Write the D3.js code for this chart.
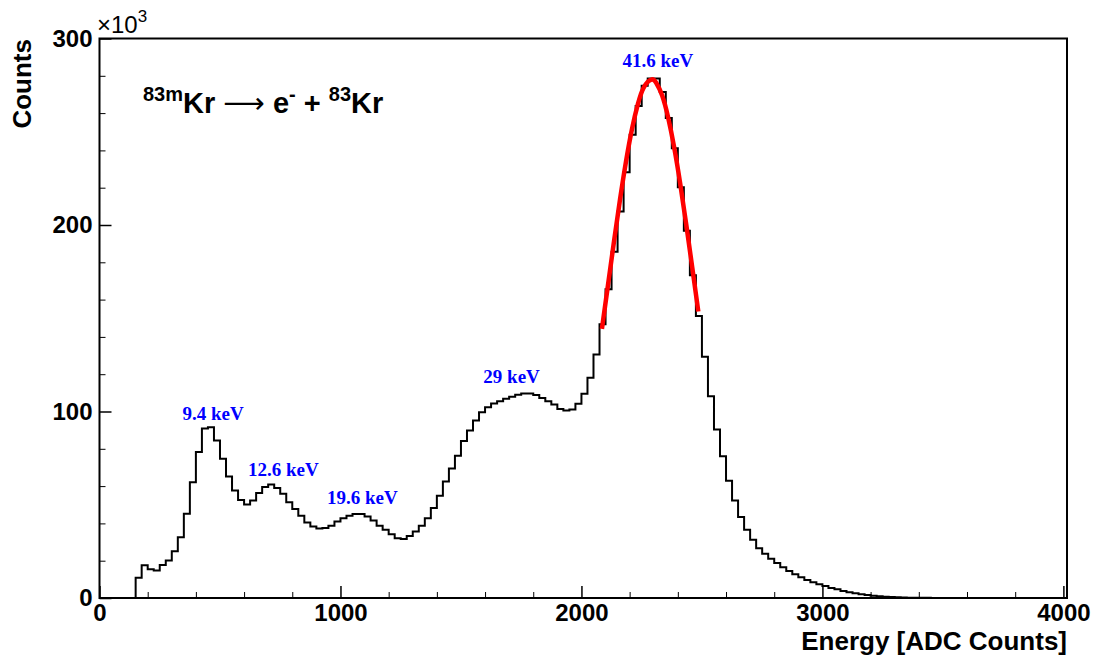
<!DOCTYPE html>
<html>
<head>
<meta charset="utf-8">
<script src="https://cdn.jsdelivr.net/npm/d3@7"></script>
<style>
  body { margin: 0; background: #fff; }
  svg { display: block; }
  .axis path, .axis line { stroke: #000; }
  .axis text { font-family: "Liberation Sans", Arial, sans-serif; font-weight: bold; font-size: 24px; fill: #000; }
</style>
</head>
<body>
<div id="chart"></div>
<script>
// histogram binning (ADC counts)
const binStart = 150;
const binWidth = 25;
const binCount = 154;
// bin contents, x10^3 counts (rest of bins are zero)
const counts = [
  10.9, 17.6, 15.4, 14.7, 17.7, 20.1, 25.1, 32.6, 45.2, 62.0,
  78.3, 90.9, 91.6, 84.4, 74.7, 65.2, 57.7, 52.5, 50.2, 52.3,
  56.3, 59.5, 60.8, 59.0, 55.9, 51.3, 47.7, 44.1, 40.5, 38.3,
  37.3, 37.5, 38.7, 41.0, 42.8, 44.1, 45.0, 45.0, 43.7, 41.6,
  38.7, 36.6, 34.2, 32.1, 31.7, 33.3, 35.6, 38.7, 42.8, 48.2,
  54.8, 62.5, 69.5, 76.3, 84.2, 89.8, 95.2, 99.6, 102.3, 104.3,
  105.5, 106.8, 107.9, 109.0, 109.7, 109.7, 108.8, 107.2, 105.5, 103.8,
  101.4, 100.5, 101.1, 104.1, 109.5, 118.1, 130.6, 146.8, 165.6, 185.6,
  207.2, 228.3, 248.4, 263.8, 274.6, 278.5, 278.5, 271.3, 257.4, 241.2,
  220.3, 196.9, 173.1, 151.2, 129.3, 108.2, 90.3, 76.0, 62.9, 52.3,
  43.4, 36.6, 31.2, 26.7, 23.7, 21.0, 18.7, 16.5, 14.5, 12.7,
  11.1, 9.7, 8.4, 7.4, 6.5, 5.4, 4.7, 3.8, 3.1, 2.5,
  2.0, 1.6, 1.2, 0.9, 0.7, 0.5, 0.4, 0.3, 0.2, 0.15,
  0.1, 0.08, 0.05, 0.03, 0.02
];

// gaussian fit of the 41.6 keV peak
const fitEnergy = [2085, 2110, 2135, 2160, 2185, 2210, 2235, 2260, 2290, 2310, 2335, 2360, 2385, 2410, 2435, 2460, 2485];
const fitCounts = [144.3, 167.6, 191.1, 213.6, 234.1, 251.6, 265.2, 274.1, 278.0, 276.3, 269.4, 257.5, 241.5, 222.1, 200.2, 177.1, 153.6];

// peak annotations (placed in data coordinates)
const peakNames = ['9.4 keV', '12.6 keV', '19.6 keV', '29 keV', '41.6 keV'];
const peakLabelX = [471, 763, 1091, 1710, 2317];
const peakLabelY = [95.5, 65.5, 50.5, 115.5, 284.5];

const xMajor = [0, 1000, 2000, 3000, 4000];
const yMajor = [0, 100, 200, 300];

const W = 1096, H = 655;
const margin = { top: 38.5, right: 29, bottom: 57, left: 99.5 };

const svg = d3.select('#chart').append('svg')
  .attr('width', W)
  .attr('height', H);

const x = d3.scaleLinear().domain([0, 4015]).range([margin.left, W - margin.right]);
const y = d3.scaleLinear().domain([0, 300]).range([H - margin.bottom, margin.top]);

// histogram as a step line
const pts = [[binStart, 0]];
for (let i = 0; i < binCount; i++) {
  const v = i < counts.length ? counts[i] : 0;
  pts.push([binStart + i * binWidth, v]);
}
pts.push([binStart + binCount * binWidth, 0]);

svg.append('path')
  .attr('d', d3.line().x(d => x(d[0])).y(d => y(d[1])).curve(d3.curveStepAfter)(pts))
  .attr('fill', 'none')
  .attr('stroke', '#000')
  .attr('stroke-width', 2);

// fit curve
svg.append('path')
  .datum(d3.zip(fitEnergy, fitCounts))
  .attr('d', d3.line().x(d => x(d[0])).y(d => y(d[1])).curve(d3.curveNatural))
  .attr('fill', 'none')
  .attr('stroke', '#ff0000')
  .attr('stroke-width', 4.5);

// frame
svg.append('rect')
  .attr('x', x(0)).attr('y', y(300))
  .attr('width', x(4015) - x(0)).attr('height', y(0) - y(300))
  .attr('fill', 'none').attr('stroke', '#000').attr('stroke-width', 2);

// x axis: minor ticks every 200, major every 1000
svg.append('g')
  .attr('class', 'axis')
  .attr('transform', `translate(0, ${y(0)})`)
  .call(d3.axisBottom(x).tickValues(d3.range(0, 4001, 200).filter(v => v % 1000)).tickSize(-6).tickFormat(''))
  .call(g => g.select('.domain').remove());
svg.append('g')
  .attr('class', 'axis')
  .attr('transform', `translate(0, ${y(0)})`)
  .call(d3.axisBottom(x).tickValues(xMajor).tickSize(-12).tickPadding(4).tickFormat(d3.format('d')))
  .call(g => g.select('.domain').remove())
  .call(g => g.selectAll('line').attr('stroke-width', 1.5))
  .call(g => g.selectAll('text').attr('dy', '0.78em'));

// y axis: minor ticks every 20, major every 100
svg.append('g')
  .attr('class', 'axis')
  .attr('transform', `translate(${x(0)}, 0)`)
  .call(d3.axisLeft(y).tickValues(d3.range(0, 301, 20).filter(v => v % 100)).tickSize(-6).tickFormat(''))
  .call(g => g.select('.domain').remove());
svg.append('g')
  .attr('class', 'axis')
  .attr('transform', `translate(${x(0)}, 0)`)
  .call(d3.axisLeft(y).tickValues(yMajor).tickSize(-12).tickPadding(7).tickFormat(d3.format('d')))
  .call(g => g.select('.domain').remove())
  .call(g => g.selectAll('line').attr('stroke-width', 1.5));

const sans = '"Liberation Sans", Arial, sans-serif';

// x10^3 exponent
const expo = svg.append('text')
  .attr('x', 97).attr('y', 33)
  .style('font-family', sans).style('font-size', '24px');
expo.append('tspan').text('\u00d710');
expo.append('tspan').attr('dy', -11).style('font-size', '17px').text('3');

// axis titles
svg.append('text')
  .attr('text-anchor', 'end')
  .attr('x', W - margin.right).attr('y', 650)
  .style('font-family', sans).style('font-weight', 'bold').style('font-size', '26px')
  .text('Energy [ADC Counts]');

svg.append('text')
  .attr('text-anchor', 'end')
  .attr('transform', 'translate(31, 39) rotate(-90)')
  .style('font-family', sans).style('font-weight', 'bold').style('font-size', '26px')
  .text('Counts');

// reaction label
const title = svg.append('text')
  .attr('x', 143).attr('y', 113)
  .style('font-family', sans).style('font-weight', 'bold').style('font-size', '29px');
title.append('tspan').attr('dy', -12).style('font-size', '20px').text('83m');
title.append('tspan').attr('dy', 12).text('Kr ');
title.append('tspan').style('font-family', '"DejaVu Sans", sans-serif').style('font-weight', 'normal').text('\u27f6');
title.append('tspan').text(' e');
title.append('tspan').attr('dy', -12).style('font-size', '20px').text('-');
title.append('tspan').attr('dy', 12).text(' + ');
title.append('tspan').attr('dy', -12).style('font-size', '20px').text('83');
title.append('tspan').attr('dy', 12).text('Kr');

// peak labels
svg.append('g').selectAll('text')
  .data(peakNames)
  .join('text')
  .attr('x', (d, i) => x(peakLabelX[i]))
  .attr('y', (d, i) => y(peakLabelY[i]))
  .attr('text-anchor', 'middle')
  .style('font-family', '"Liberation Serif", "Times New Roman", serif')
  .style('font-weight', 'bold')
  .style('font-size', '19px')
  .style('fill', '#0000ff')
  .text(d => d);
</script>
</body>
</html>
